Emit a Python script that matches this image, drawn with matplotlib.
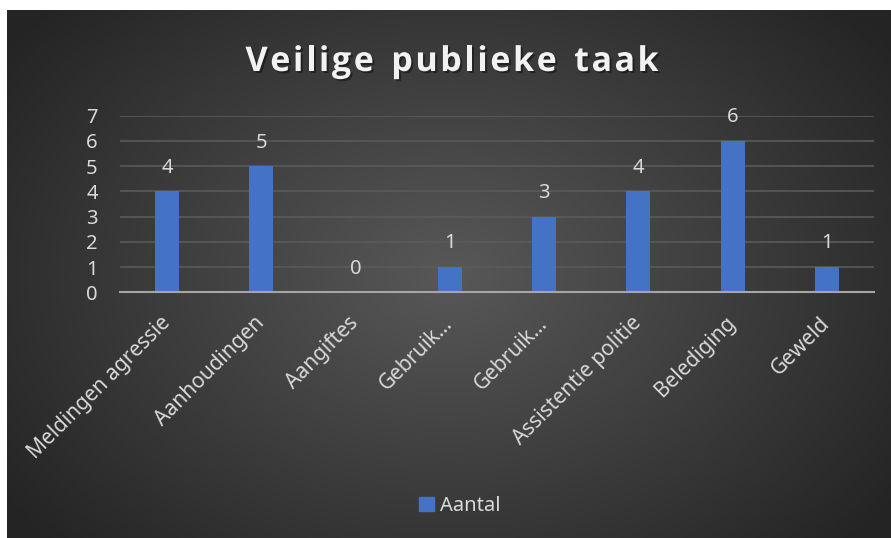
import numpy as np
import matplotlib
matplotlib.use("Agg")
import matplotlib.pyplot as plt
import matplotlib.patheffects as pe
from matplotlib.patches import Rectangle

plt.rcParams['font.family'] = ['Noto Sans', 'DejaVu Sans']

categories = ["Meldingen agressie", "Aanhoudingen", "Aangiftes", "Gebruik…",
              "Gebruik…", "Assistentie politie", "Belediging", "Geweld"]
values = [4, 5, 0, 1, 3, 4, 6, 1]
yticks = [0, 1, 2, 3, 4, 5, 6, 7]
title = "Veilige publieke taak"
series_name = "Aantal"

W, H = 891, 538
fig = plt.figure(figsize=(W / 100, H / 100), dpi=100, facecolor='white')

# background panel with radial gradient
bg = fig.add_axes([7 / W, 0, (W - 7) / W, (H - 10) / H])
bg.set_axis_off()
ny, nx = 300, 500
yy, xx = np.mgrid[0:ny, 0:nx]
cx, cy = nx * 0.5, ny * 0.50
d = np.sqrt(((xx - cx) / (nx * 0.62)) ** 2 + ((yy - cy) / (ny * 0.75)) ** 2)
d = np.clip(d, 0, 1)
light = np.array([0x58, 0x58, 0x58]) / 255
dark = np.array([0x24, 0x24, 0x24]) / 255
img = light[None, None, :] * (1 - d[..., None]) + dark[None, None, :] * d[..., None]
bg.imshow(img, aspect='auto', extent=[0, 1, 0, 1], interpolation='bilinear')
bg.set_xlim(0, 1)
bg.set_ylim(0, 1)

ax = fig.add_axes([120 / W, 1 - 292.3 / H, (874 - 120) / W, (292.3 - 115.7) / H])
ax.patch.set_alpha(0)
x = np.arange(len(categories))
bars = ax.bar(x, values, width=0.255, color='#4472C4', zorder=3, label=series_name)
ax.set_xlim(-0.5, len(categories) - 0.5)
ax.set_ylim(0, 7)
ax.set_yticks(yticks)
ax.set_yticklabels([str(t) for t in yticks], fontsize=14.5, color='#d9d9d9')
ax.yaxis.grid(True, color='#5a5a5a', linewidth=1.2, zorder=0)
ax.set_axisbelow(True)
for s in ['top', 'right', 'left']:
    ax.spines[s].set_visible(False)
ax.spines['bottom'].set_color('#a6a6a6')
ax.spines['bottom'].set_linewidth(1.5)
ax.spines['bottom'].set_zorder(4)
ax.tick_params(axis='both', length=0)
ax.tick_params(axis='y', pad=16)
ax.set_xticks(x)
ax.set_xticklabels(categories, rotation=45, ha='right', va='center', rotation_mode='anchor',
                   fontsize=15, color='#d9d9d9')
ax.tick_params(axis='x', pad=20)

for xi, v in zip(x, values):
    ax.annotate(str(v), (xi, v), xytext=(0, 17), textcoords='offset points',
                ha='center', va='center', fontsize=14.5, color='#d9d9d9')

# title with letter spacing, drawn char by char
fig.canvas.draw()
renderer = fig.canvas.get_renderer()
tprops = dict(fontsize=24.5, fontweight='bold', family='Open Sans', color='#f2f2f2')
spacing = 2.6  # px
widths = []
for ch in title:
    t = fig.text(0, 0, ch if ch != ' ' else 'n', **tprops)
    bb = t.get_window_extent(renderer)
    widths.append(bb.width * (0.55 if ch == ' ' else 1.0))
    t.remove()
total = sum(widths) + spacing * (len(title) - 1)
xpos = 452 - total / 2
shadow = [pe.withSimplePatchShadow(offset=(1.5, -1.5), shadow_rgbFace='black', alpha=0.4)]
for ch, w in zip(title, widths):
    if ch != ' ':
        fig.text(xpos / W, 1 - 58 / H, ch, ha='left', va='center_baseline', path_effects=shadow,
                 **tprops)
    xpos += w + spacing

leg = fig.legend(handles=[Rectangle((0, 0), 1, 1, color='#4472C4')], labels=[series_name],
                 loc='center', bbox_to_anchor=(460 / W, 1 - 506 / H), frameon=False,
                 fontsize=14.5, handlelength=0.75, handleheight=0.75, handletextpad=0.3,
                 labelcolor='#d9d9d9')

fig.savefig('out.png', dpi=100, facecolor='white')
